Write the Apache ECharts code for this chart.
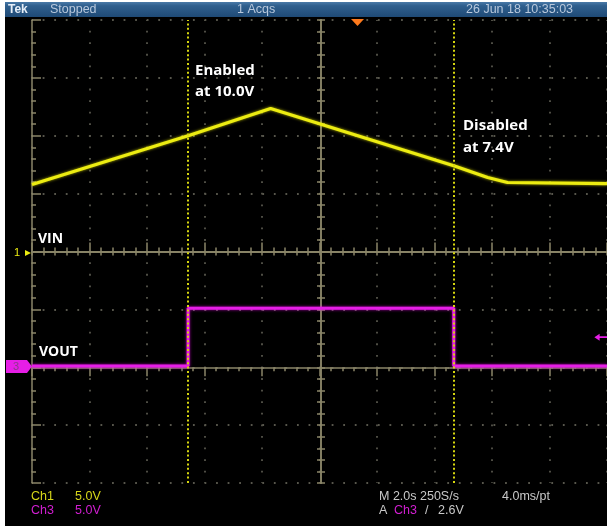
<!DOCTYPE html>
<html>
<head>
<meta charset="utf-8">
<script src="https://cdn.jsdelivr.net/npm/echarts@6/dist/echarts.min.js"></script>
<style>
  html, body { margin: 0; padding: 0; background: #000; }
  #scope { width: 607px; height: 526px; }
</style>
</head>
<body>
<div id="scope"></div>
<script>
// Horizontal: 10 divisions at 2.0 s/div
const timeRange = [0, 20];
const secondsPerDiv = 2;
// Ch1 (VIN) 5.0 V/div, ground at the centre line
const ch1Range = [-20, 20];
// Ch3 (VOUT) 5.0 V/div, ground two divisions below the centre line
const ch3Range = [-10, 30];
const voltsPerDiv = 5;

// VIN ramp (Ch1)
const vinTime  = [0,    5.43, 8.30,  14.67, 15.85, 16.54, 20];
const vinVolts = [5.79, 10.0, 12.35, 7.4,   6.39,  5.96,  5.87];

// VOUT (Ch3): enabled between the two cursor times
const voutTime  = [0,   5.43, 5.43, 14.67, 14.67, 20];
const voutVolts = [0.1, 0.1,  5.1,  5.1,   0.1,   0.1];

// Cursor times (enable / disable points) and Ch3 trigger level
const cursorTimes = [5.43, 14.67];
const triggerLevel = 2.6;
const triggerMarkTime = 19.7;

// Readout texts
const headerTexts = ['Tek', 'Stopped', '1 Acqs', '26 Jun 18 10:35:03'];
const ch1Readout = ['Ch1', '5.0V'];
const ch3Readout = ['Ch3', '5.0V'];
const timebaseReadout = ['M 2.0s 250S/s', '4.0ms/pt'];
const triggerReadout = ['A', 'Ch3', '/', '2.6V'];
const annotations = [['Enabled', 'at 10.0V'], ['Disabled', 'at 7.4V']];
const traceNames = ['VIN', 'VOUT'];

const frameColor = '#8a8568';
const dotColor = '#57564c';
const yellow = '#ecec12';
const magenta = '#e61ee6';
const readoutFont = '"Liberation Sans Narrow", "Liberation Sans", Arial, sans-serif';
const labelFont = '"Open Sans", "Noto Sans", sans-serif';

const GRID = { left: 32, top: 20, width: 578, height: 463 };
const halfW = GRID.width / 2;
const halfH = GRID.height / 2;

function zip(a, b) { return a.map((v, i) => [v, b[i]]); }

const hidden = { show: false };

function frameX(position, withSplit) {
  return {
    type: 'value', min: timeRange[0], max: timeRange[1], interval: secondsPerDiv,
    position: position,
    axisLine: { show: true, lineStyle: { color: frameColor, width: 1.5 } },
    axisTick: { show: true, inside: true, length: 9, lineStyle: { color: frameColor, width: 1.5 } },
    minorTick: { show: true, splitNumber: 5, length: 4, lineStyle: { color: frameColor, width: 1.5 } },
    axisLabel: hidden,
    splitLine: withSplit ? { show: true, lineStyle: { color: dotColor, width: 1.8, type: [1.8, 9.78], dashOffset: 0.9 } } : hidden
  };
}
function centreX(position) {
  return {
    type: 'value', min: timeRange[0], max: timeRange[1], interval: secondsPerDiv,
    position: position, offset: -halfH,
    axisLine: { show: true, lineStyle: { color: frameColor, width: 1.5 } },
    axisTick: { show: true, inside: true, length: 4, lineStyle: { color: frameColor, width: 1.5 } },
    minorTick: { show: true, splitNumber: 5, length: 4, lineStyle: { color: frameColor, width: 1.5 } },
    axisLabel: hidden, splitLine: hidden
  };
}
function frameY(position, withSplit) {
  return {
    type: 'value', min: ch1Range[0], max: ch1Range[1], interval: voltsPerDiv,
    position: position,
    axisLine: { show: true, lineStyle: { color: frameColor, width: 1.5 } },
    axisTick: { show: true, inside: true, length: 9, lineStyle: { color: frameColor, width: 1.5 } },
    minorTick: { show: true, splitNumber: 5, length: 4, lineStyle: { color: frameColor, width: 1.5 } },
    axisLabel: hidden,
    splitLine: withSplit ? { show: true, lineStyle: { color: dotColor, width: 1.8, type: [1.8, 9.76], dashOffset: 0.9 } } : hidden
  };
}
function centreY(position) {
  return {
    type: 'value', min: ch1Range[0], max: ch1Range[1], interval: voltsPerDiv,
    position: position, offset: -halfW,
    axisLine: { show: true, lineStyle: { color: frameColor, width: 1.5 } },
    axisTick: { show: true, inside: true, length: 4, lineStyle: { color: frameColor, width: 1.5 } },
    minorTick: { show: true, splitNumber: 5, length: 4, lineStyle: { color: frameColor, width: 1.5 } },
    axisLabel: hidden, splitLine: hidden
  };
}

function txt(x, y, text, fill, size, opts) {
  return Object.assign({
    type: 'text', x: x, y: y, z: 100,
    style: Object.assign({ text: text, fill: fill, font: size + 'px ' + readoutFont, textVerticalAlign: 'middle' }, opts || {})
  });
}

const graphics = [
  // white margin on the left and top
  { type: 'rect', shape: { x: 0, y: 0, width: 5, height: 526 }, style: { fill: '#fff' }, z: 100 },
  { type: 'rect', shape: { x: 0, y: 0, width: 607, height: 2 }, style: { fill: '#fff' }, z: 100 },
  // header bar
  { type: 'rect', shape: { x: 5, y: 2, width: 602, height: 15 }, z: 100,
    style: { fill: new echarts.graphic.LinearGradient(0, 0, 0, 1, [
      { offset: 0, color: '#4a7aa8' }, { offset: 0.25, color: '#2f5f8e' }, { offset: 1, color: '#1f4a76' }]) } },
  txt(8, 10, headerTexts[0], '#e6eef8', 12, { font: 'bold 12px ' + readoutFont }),
  txt(50, 10, headerTexts[1], '#b8c8dc', 12.5),
  txt(237, 10, headerTexts[2], '#b8c8dc', 12.5),
  txt(466, 10, headerTexts[3], '#b8c8dc', 12.5),
  // trigger position marker
  { type: 'polygon', shape: { points: [[351, 19], [364, 19], [357.5, 26]] }, style: { fill: '#ff7a1c' }, z: 100 },
  // Ch1 ground marker
  txt(14, 253, '1', yellow, 11),
  { type: 'polygon', shape: { points: [[25, 250], [25, 256], [31, 253]] }, style: { fill: yellow }, z: 100 },
  // Ch3 ground marker
  { type: 'rect', shape: { x: 6, y: 360, width: 21, height: 13 }, style: { fill: magenta }, z: 100 },
  { type: 'polygon', shape: { points: [[27, 360], [27, 373], [32, 366.5]] }, style: { fill: magenta }, z: 100 },
  txt(13, 367, '3', '#8a3a8a', 11),
  // trace names
  txt(38, 239, traceNames[0], '#fff', 14, { font: 'bold 14px ' + labelFont }),
  txt(39, 352, traceNames[1], '#fff', 14, { font: 'bold 14px ' + labelFont }),
  // annotations
  txt(195, 71, annotations[0][0], '#fff', 15, { font: 'bold 15px ' + labelFont }),
  txt(195, 92, annotations[0][1], '#fff', 15, { font: 'bold 15px ' + labelFont }),
  txt(463, 126, annotations[1][0], '#fff', 15, { font: 'bold 15px ' + labelFont }),
  txt(463, 148, annotations[1][1], '#fff', 15, { font: 'bold 15px ' + labelFont }),
  // readouts
  txt(31, 497, ch1Readout[0], '#d6d61a', 12.5),
  txt(75, 497, ch1Readout[1], '#d6d61a', 12.5),
  txt(31, 511, ch3Readout[0], '#d21ed2', 12.5),
  txt(75, 511, ch3Readout[1], '#d21ed2', 12.5),
  txt(379, 497, timebaseReadout[0], '#c8c8c8', 12.5),
  txt(502, 497, timebaseReadout[1], '#c8c8c8', 12.5),
  txt(379, 511, triggerReadout[0], '#c8c8c8', 12.5),
  txt(394, 511, triggerReadout[1], '#d21ed2', 12.5),
  txt(425, 511, triggerReadout[2], '#c8c8c8', 12.5),
  txt(438, 511, triggerReadout[3], '#c8c8c8', 12.5)
];

const chart = echarts.init(document.getElementById('scope'), null, { renderer: 'canvas' });
chart.setOption({
  backgroundColor: '#000',
  animation: false,
  grid: GRID,
  xAxis: [frameX('bottom', true), frameX('top', false), centreX('bottom'), centreX('top')],
  yAxis: [
    frameY('left', true),
    { type: 'value', min: ch3Range[0], max: ch3Range[1], interval: voltsPerDiv, position: 'right',
      axisLine: hidden, axisTick: hidden, axisLabel: hidden, splitLine: hidden },
    centreY('left'), centreY('right')
  ],
  graphic: graphics,
  series: [
    {
      name: 'cursors', type: 'line', data: [], xAxisIndex: 0, yAxisIndex: 0, z: 1,
      markLine: {
        silent: true, symbol: 'none', label: { show: false },
        lineStyle: { color: '#d6d60e', width: 2, type: [2, 2.4] },
        data: cursorTimes.map(t => ({ xAxis: t }))
      }
    },
    {
      name: 'VIN', type: 'line', xAxisIndex: 0, yAxisIndex: 0, z: 3,
      data: zip(vinTime, vinVolts), showSymbol: false, clip: true,
      lineStyle: { color: yellow, width: 3.2, shadowBlur: 3, shadowColor: 'rgba(255,255,0,0.7)' }
    },
    {
      name: 'VOUT', type: 'line', xAxisIndex: 0, yAxisIndex: 1, z: 4,
      data: zip(voutTime, voutVolts), showSymbol: false, clip: true,
      lineStyle: { color: magenta, width: 3, shadowBlur: 3, shadowColor: 'rgba(255,0,255,0.7)' },
      markPoint: {
        silent: true, label: { show: false },
        data: [{ coord: [triggerMarkTime, triggerLevel],
          symbol: 'path://M0,4 L6,0 L6,3 L16,3 L16,5 L6,5 L6,8 Z',
          symbolSize: [14, 7], symbolOffset: [3, 0],
          itemStyle: { color: magenta } }]
      }
    }
  ]
});
</script>
</body>
</html>
